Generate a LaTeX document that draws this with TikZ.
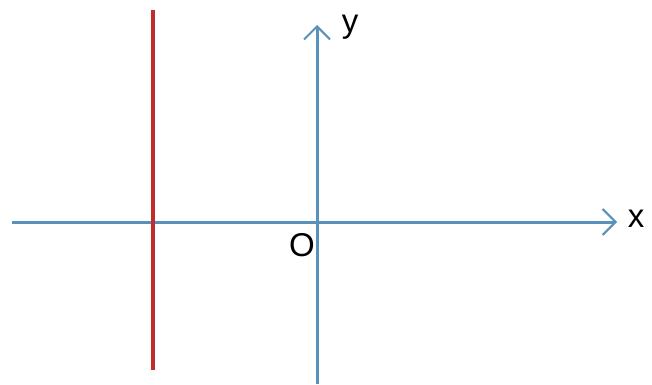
\documentclass[tikz,border=0pt]{standalone}
\usepackage{fontspec}
\setmainfont{Liberation Sans}
\usetikzlibrary{arrows.meta}
\definecolor{axisblue}{RGB}{88,145,185}
\definecolor{linered}{RGB}{192,45,45}
\begin{document}
\begin{tikzpicture}[x=1pt,y=-1pt,
  axis/.style={axisblue,line width=3pt,-{Straight Barb[length=13pt,width=26pt,line width=2pt]}},
  lbl/.style={font=\fontsize{33}{33}\selectfont,inner sep=0pt}]
\useasboundingbox (0,0) rectangle (652,384);
\fill[white] (0,0) rectangle (652,384);
\coordinate (xs) at (12,222);
\coordinate (xe) at (617,222);
\coordinate (ys) at (317,384);
\coordinate (ye) at (317,25);
\coordinate (rs) at (153,10);
\coordinate (re) at (153,370);
\draw[axis] (xs) -- (xe);
\draw[axis] (ys) -- (ye);
\draw[linered,line width=4pt] (rs) -- (re);
\node[lbl] (xl) at (636,219) {x};
\node[lbl] (yl) at (350,27) {y};
\node[lbl] (ol) at (302,245) {O};
\end{tikzpicture}
\end{document}
